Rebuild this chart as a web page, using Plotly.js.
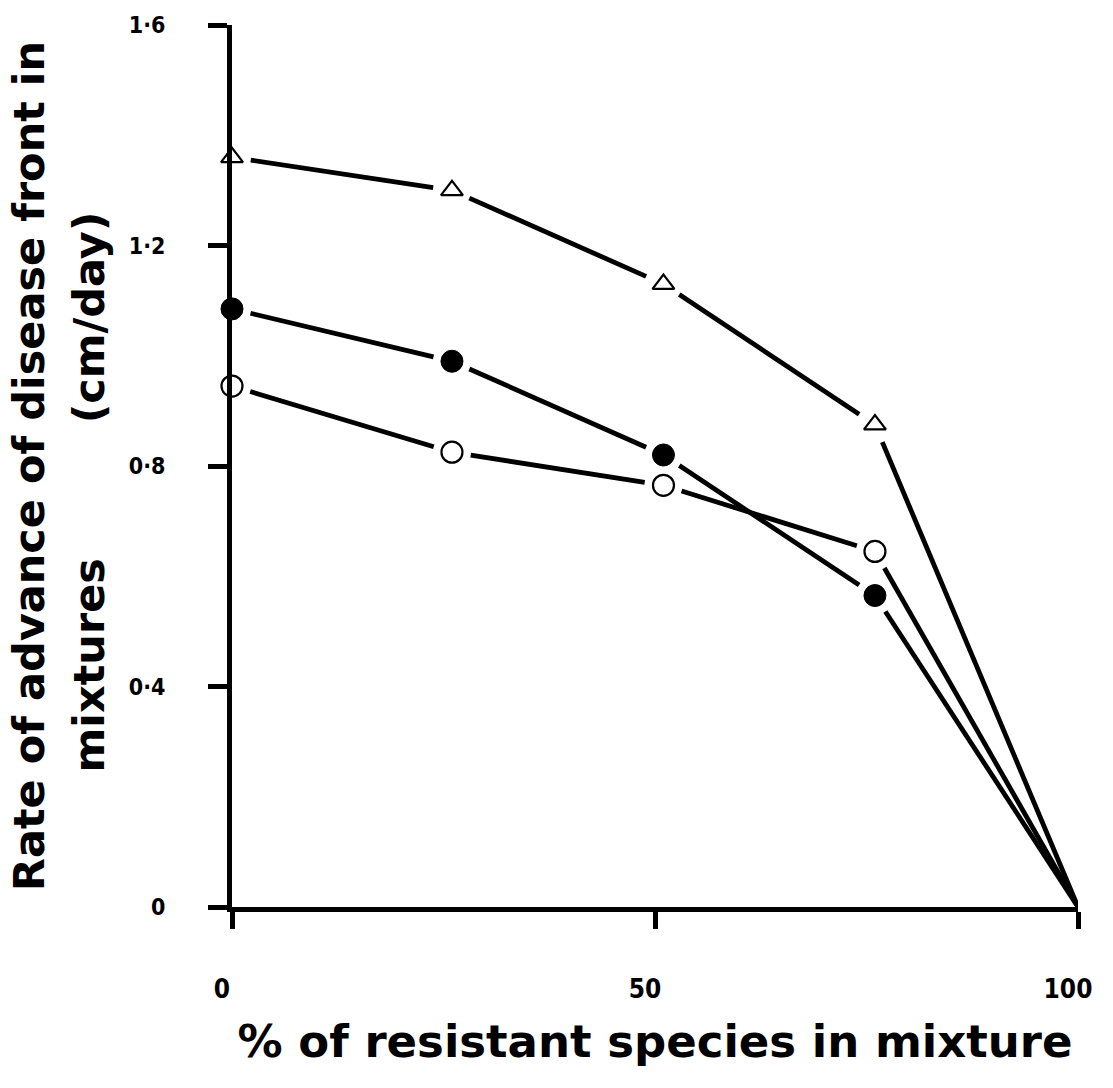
<!DOCTYPE html>
<html>
<head>
<meta charset="utf-8">
<script src="https://cdn.plot.ly/plotly-3.0.1.min.js"></script>
<style>
  html, body { margin: 0; padding: 0; background: #fff; }
  #chart { width: 1113px; height: 1088px; }
</style>
</head>
<body>
<div id="chart"></div>
<script>
// % of resistant species in mixture
const pctResistant = [0, 26, 51, 76, 100];
// Rate of advance of disease front (cm/day)
const seriesTriangle = [1.36, 1.30, 1.13, 0.875, 0];
const seriesFilled   = [1.085, 0.99, 0.82, 0.565, 0];
const seriesOpen     = [0.945, 0.825, 0.765, 0.645, 0];

const yTickVals = [0, 0.4, 0.8, 1.2, 1.6];
const yTickText = ["0", "0\u00b74", "0\u00b78", "1\u00b72", "1\u00b76"];
const xTickVals = [0, 50, 100];
const xTickText = ["0", "50", "100"];

const W = 1113, H = 1088;
const M = {l: 232, r: 35, t: 25, b: 181};
const X_RANGE = [0, 100], Y_RANGE = [0, 1.6];

// Connecting segments that stop short of each plotted symbol (as in the
// original drawing); endpoints are derived from the data arrays.
function gappedSegments(xs, ys, gapPx) {
  const pxX = (W - M.l - M.r) / (X_RANGE[1] - X_RANGE[0]);
  const pxY = (H - M.t - M.b) / (Y_RANGE[1] - Y_RANGE[0]);
  const segs = [];
  for (let i = 0; i < xs.length - 1; i++) {
    const dx = (xs[i + 1] - xs[i]) * pxX, dy = (ys[i + 1] - ys[i]) * pxY;
    const L = Math.sqrt(dx * dx + dy * dy);
    const t0 = xs[i] < 100 ? gapPx / L : 0;
    const t1 = xs[i + 1] < 100 ? 1 - gapPx / L : 1;
    segs.push({
      x: [xs[i] + (xs[i + 1] - xs[i]) * t0, xs[i] + (xs[i + 1] - xs[i]) * t1],
      y: [ys[i] + (ys[i + 1] - ys[i]) * t0, ys[i] + (ys[i + 1] - ys[i]) * t1]
    });
  }
  return segs;
}

const allSeries = [seriesTriangle, seriesFilled, seriesOpen];
const traces = [];
allSeries.forEach(s => {
  gappedSegments(pctResistant, s, 19).forEach(seg => {
    traces.push({
      x: seg.x, y: seg.y, type: 'scatter', mode: 'lines',
      line: {color: '#000', width: 4.8},
      cliponaxis: false, hoverinfo: 'skip', showlegend: false
    });
  });
});

const markedX = pctResistant.slice(0, 4);
traces.push({
  x: markedX, y: seriesTriangle.slice(0, 4), type: 'scatter', mode: 'markers',
  marker: {symbol: 'triangle-up', size: 19, color: '#fff', opacity: 1, line: {color: '#000', width: 2.2}},
  cliponaxis: false, showlegend: false
});
traces.push({
  x: markedX, y: seriesFilled.slice(0, 4), type: 'scatter', mode: 'markers',
  marker: {symbol: 'circle', size: 22, color: '#000', opacity: 1, line: {color: '#000', width: 1}},
  cliponaxis: false, showlegend: false
});
traces.push({
  x: markedX, y: seriesOpen.slice(0, 4), type: 'scatter', mode: 'markers',
  marker: {symbol: 'circle', size: 21, color: '#fff', opacity: 1, line: {color: '#000', width: 2.2}},
  cliponaxis: false, showlegend: false
});

const titleFont = {family: 'DejaVu Sans, Liberation Sans, sans-serif', size: 43, color: '#000', weight: 'bold'};
const tickFamily = 'DejaVu Sans Condensed, Liberation Sans Narrow, DejaVu Sans, sans-serif';

const layout = {
  width: W, height: H,
  paper_bgcolor: '#fff', plot_bgcolor: '#fff',
  margin: M,
  showlegend: false,
  xaxis: {
    range: X_RANGE, showgrid: false, zeroline: false,
    showline: true, linecolor: '#000', linewidth: 5,
    ticks: 'outside', ticklen: 17, tickwidth: 5, tickcolor: '#000',
    tickvals: xTickVals, ticktext: xTickText,
    tickfont: {family: tickFamily, size: 26, color: '#000', weight: 'bold'},
    ticklabelstandoff: 38, ticklabelshift: -10,
    layer: 'above traces',
    title: {text: '% of resistant species in mixture', font: {...titleFont, size: 45}, standoff: 24}
  },
  yaxis: {
    range: Y_RANGE, showgrid: false, zeroline: false,
    showline: true, linecolor: '#000', linewidth: 5,
    ticks: 'outside', ticklen: 19, tickwidth: 5, tickcolor: '#000',
    tickvals: yTickVals, ticktext: yTickText,
    tickfont: {family: tickFamily, size: 23, color: '#000', weight: 'bold'},
    ticklabelstandoff: 38,
    layer: 'above traces',
    title: {text: 'Rate of advance of disease front in', font: titleFont, standoff: 72}
  },
  annotations: [{
    xref: 'paper', yref: 'paper', x: -0.169, y: 0.47,
    xanchor: 'center', yanchor: 'middle', textangle: -90, showarrow: false,
    text: 'mixtures' + '\u00a0'.repeat(9) + '(cm/day)',
    font: titleFont
  }]
};

Plotly.newPlot('chart', traces, layout, {displayModeBar: false, staticPlot: true});
</script>
</body>
</html>
